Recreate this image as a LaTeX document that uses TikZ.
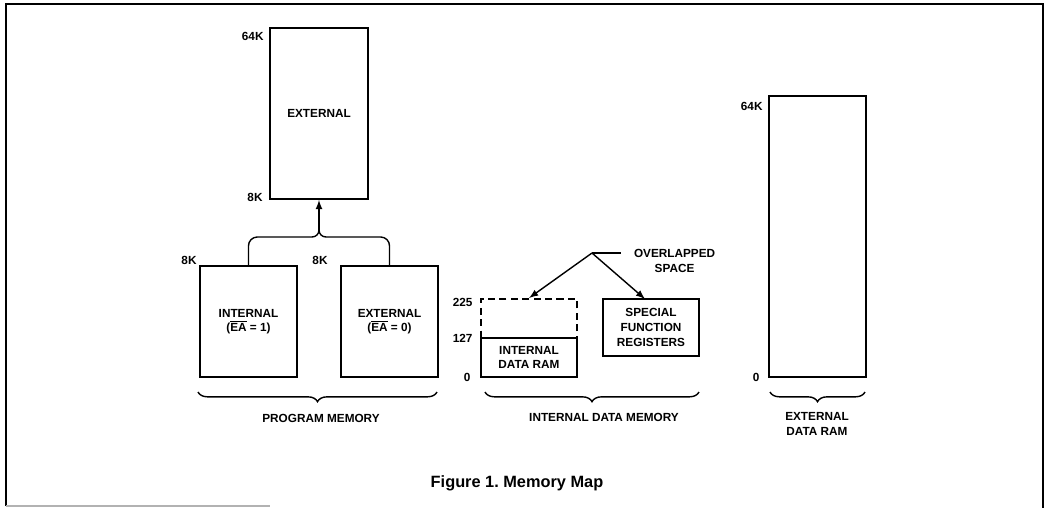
\documentclass[tikz,border=0pt]{standalone}
\usepackage{fontspec}
\setmainfont{Liberation Sans}
\usetikzlibrary{decorations.pathreplacing}
\begin{document}
\begin{tikzpicture}[
        x=0.02cm, y=-0.02cm,
        >=latex,
        every node/.style={font=\fontsize{6.7}{8.3}\selectfont\bfseries, inner sep=1pt},
        mem/.style={draw, line width=1.1pt, align=center, inner sep=0pt},
        addr/.style={anchor=east},
        memgroup/.style={decorate, thick, decoration={brace, mirror, amplitude=5.5pt}},
        every path/.style={thick}
    ]
        \useasboundingbox (0,0) rectangle (1049,508);
        \draw[line width=0.9pt] (6,506) -- (6,4) -- (1043,4) -- (1043,508);
        \draw[gray!60] (6,506) -- (270,506);

        \node[mem, minimum width=1.96cm, minimum height=3.42cm] (pext) at (319,113.5)
            {EXTERNAL};
        \node[mem, minimum width=1.94cm, minimum height=2.22cm] (pint) at (248.5,321.5)
            {INTERNAL\\($\overline{\hbox{EA}}$ = 1)};
        \node[mem, minimum width=1.94cm, minimum height=2.22cm] (pextl) at (389.5,321.5)
            {EXTERNAL\\($\overline{\hbox{EA}}$ = 0)};
        \node[mem, dash pattern=on 4pt off 2.5pt, minimum width=1.92cm, minimum height=0.78cm] (ovl) at (529,318.5) {};
        \node[mem, minimum width=1.92cm, minimum height=0.78cm] (ram) at (529,357.5)
            {INTERNAL\\DATA RAM};
        \node[mem, minimum width=1.92cm, minimum height=1.14cm] (sfr) at (651,327.5)
            {SPECIAL\\FUNCTION\\REGISTERS};
        \node[mem, minimum width=1.94cm, minimum height=5.62cm] (xram) at (817.5,236.5) {};

        \node[addr] (a64k) at (266,36) {64K};
        \node[addr] (a8ka) at (265,197) {8K};
        \node[addr] (a8kb) at (199,260) {8K};
        \node[addr] (a8kc) at (330,260) {8K};
        \node[addr] (a225) at (475,302) {225};
        \node[addr] (a127) at (475,338) {127};
        \node[addr] (a0) at (473,377) {0};
        \node[addr] (x64k) at (765,106) {64K};
        \node[addr] (x0) at (762,377) {0};

        \coordinate (jn) at (319,230);
        \draw[rounded corners=5pt] (pint.north) |- (312,237);
        \draw (312,237) to[out=0, in=-90] (jn) to[out=-90, in=180] (326,237);
        \draw[rounded corners=5pt] (326,237) -| (pextl.north);
        \draw[->] (jn) -- (pext.south);

        \node[align=center, anchor=west, inner xsep=7pt] (ovtxt) at (621,261) {OVERLAPPED\\SPACE};
        \coordinate (ovk) at (592,253);
        \draw (ovk) -- (ovk -| ovtxt.west);
        \draw[->] (ovk) -- (ovl.north);
        \draw[->] (ovk) -- (645,299);

        \draw[memgroup] (198,392) -- (437,392);
        \draw[memgroup] (485,392) -- (699,392);
        \draw[memgroup] (770,392) -- (865,392);
        \node (pmem) at (321,418) {PROGRAM MEMORY};
        \node (dmem) at (604,417) {INTERNAL DATA MEMORY};
        \node[align=center] (xmem) at (817,424) {EXTERNAL\\DATA RAM};

        \node[font=\fontsize{9.3}{11}\selectfont\bfseries] (cap) at (517,483) {Figure 1.\ Memory Map};
    \end{tikzpicture}
\end{document}
